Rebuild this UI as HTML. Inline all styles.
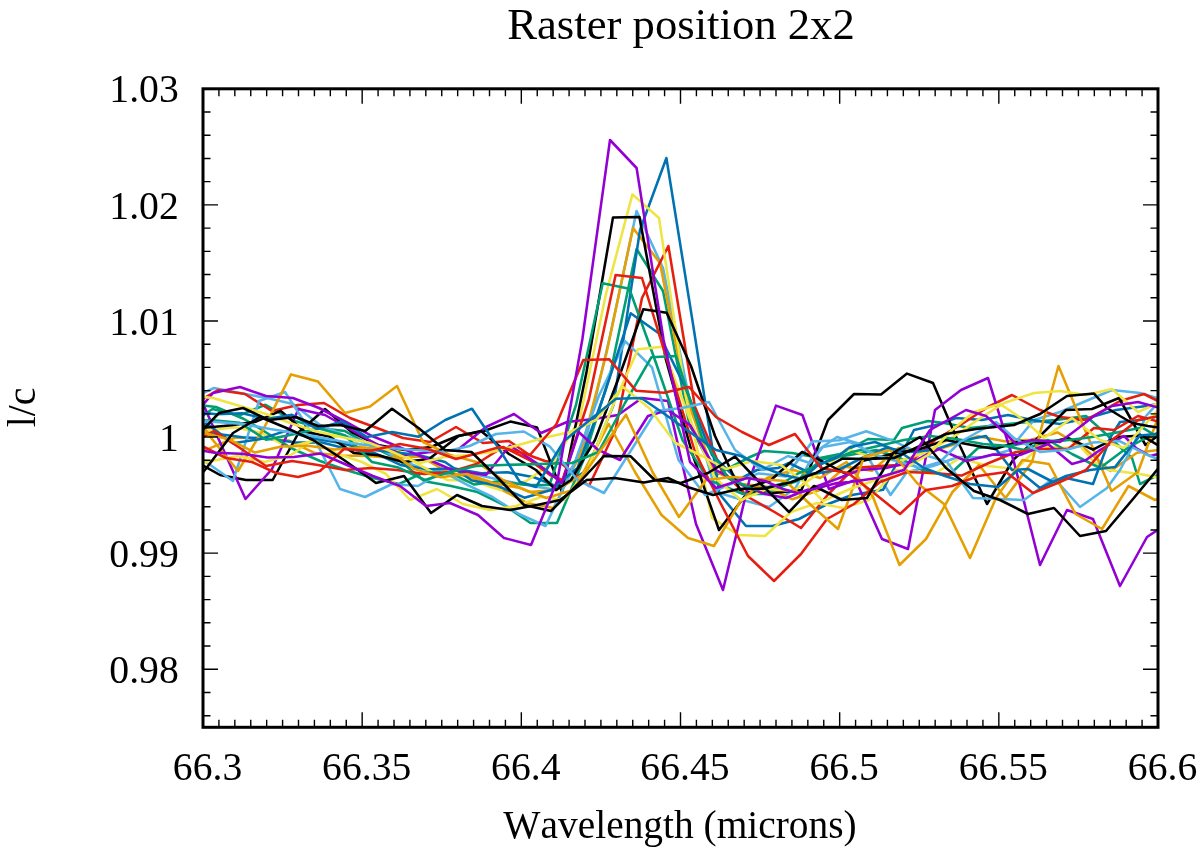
<!DOCTYPE html>
<html><head><meta charset="utf-8"><title>Raster position 2x2</title>
<style>
html,body{margin:0;padding:0;background:#fff;}
svg{display:block;}
.t{font-size:40.7px;}
text{font-family:"Liberation Serif","Times New Roman",serif;font-size:40px;fill:#000;font-kerning:none;}
</style></head><body>
<svg width="1200" height="853" viewBox="0 0 1200 853">
<rect width="1200" height="853" fill="#fff"/>
<defs><clipPath id="c"><rect x="203.0" y="88.8" width="955.0" height="638.5"/></clipPath></defs>
<g clip-path="url(#c)" fill="none" stroke-width="2.55" stroke-linejoin="round" stroke-linecap="butt">
<polyline points="186.0,427.3 212.5,409.0 239.0,415.6 265.5,404.8 292.0,420.1 318.5,427.9 345.0,431.1 371.5,446.1 398.0,459.3 424.5,481.2 451.0,486.0 477.5,492.0 504.0,505.0 530.5,523.0 557.0,523.0 583.5,460.0 610.0,375.0 636.6,249.0 663.0,291.0 689.5,425.0 716.0,475.0 750.0,457.0 764.0,451.0 792.0,453.0 820.0,458.0 840.0,454.0 868.0,439.0 894.0,440.0 902.0,428.0 928.0,421.0 944.0,423.0 970.0,428.0 998.0,425.0 1028.0,422.0 1056.0,420.0 1086.0,416.0 1106.0,434.0 1132.0,458.0 1140.0,484.0 1160.0,474.0 1186.0,470.0" stroke="#009E73"/>
<polyline points="188.0,400.0 214.0,388.0 240.0,393.0 267.0,398.0 293.0,404.0 320.0,425.0 346.0,436.0 372.4,444.8 398.8,459.0 425.1,469.9 451.5,469.8 477.9,475.1 504.2,480.8 530.6,485.8 557.0,490.0 583.5,450.0 610.0,336.0 636.6,211.0 663.0,268.0 689.5,400.0 716.0,492.0 742.5,500.0 769.0,507.0 795.5,488.0 815.0,452.0 837.0,437.0 860.0,444.0 890.5,495.0 907.0,472.0 933.0,466.0 958.2,457.0 983.5,457.2 1008.8,450.4 1034.0,420.0 1060.0,412.0 1086.0,401.0 1112.0,390.0 1140.0,393.0 1160.0,399.0 1186.0,404.0" stroke="#56B4E9"/>
<polyline points="182.5,456.9 209.0,448.6 235.5,437.5 262.0,438.5 288.5,440.5 315.0,453.1 341.5,455.5 368.0,455.9 394.5,457.9 421.0,456.6 447.5,472.0 474.0,478.0 500.5,489.0 527.0,503.0 553.5,508.0 580.0,455.0 606.5,353.0 633.0,228.0 660.0,263.0 686.5,398.0 713.0,470.0 739.5,483.8 766.0,486.6 792.5,499.3 819.0,490.3 845.5,466.7 872.0,470.7 898.5,447.9 925.0,452.9 951.5,445.3 978.0,436.2 1004.5,441.3 1031.0,439.8 1057.5,432.4 1084.0,448.1 1110.5,471.0 1137.0,452.8 1163.5,449.3" stroke="#E69F00"/>
<polyline points="189.5,429.9 216.0,433.7 242.5,437.2 269.0,438.7 295.5,442.4 322.0,442.5 348.5,449.2 375.0,453.1 401.5,465.3 428.0,469.2 454.5,468.5 481.0,473.2 507.5,472.3 534.0,477.3 560.5,488.0 587.0,470.0 613.5,405.0 640.0,230.0 666.4,158.0 693.0,324.0 719.5,494.0 746.0,526.0 772.5,526.0 799.0,519.0 825.5,505.0 852.0,495.0 883.0,489.8 914.0,430.0 940.0,424.0 956.0,418.0 982.0,420.0 1008.0,415.0 1032.0,420.0 1060.0,424.0 1088.0,418.0 1116.0,410.0 1146.0,406.0 1172.0,402.0" stroke="#0072B2"/>
<polyline points="192.0,405.0 218.0,390.0 245.0,394.0 272.0,411.0 298.0,405.0 324.0,403.0 350.0,418.0 377.0,428.0 403.0,438.0 430.0,442.0 456.0,427.0 483.0,443.0 509.0,441.0 531.0,456.0 545.0,461.0 562.0,464.0 589.0,486.0 615.5,430.0 642.0,298.0 668.4,246.0 695.0,407.0 721.5,470.0 748.0,497.0 774.5,512.0 801.0,528.0 827.5,495.0 854.0,468.0 880.0,466.0 907.5,464.6 935.0,440.0 962.0,424.0 988.0,407.0 1012.0,395.0 1040.0,410.0 1060.0,417.0 1086.0,420.0 1120.0,401.0 1144.0,394.0 1160.0,402.0 1186.0,410.0" stroke="#E51E10"/>
<polyline points="182.0,447.2 208.5,430.5 235.0,427.2 261.5,433.1 288.0,447.2 314.5,440.4 341.0,435.4 367.5,448.5 394.0,448.0 420.5,465.7 447.0,479.9 473.5,481.0 500.0,490.0 526.5,481.0 553.0,462.0 579.5,420.0 606.0,294.0 632.4,194.4 659.0,218.0 685.5,395.0 712.0,518.0 738.5,535.0 765.0,536.0 791.0,512.0 817.0,503.0 843.0,508.0 869.0,500.0 896.0,470.0 934.0,474.0 960.0,458.0 988.0,466.0 1016.0,469.0 1040.0,446.0 1066.0,448.0 1080.0,446.0 1094.0,462.0 1108.0,470.0 1140.0,474.0 1160.0,478.0 1186.0,480.0" stroke="#F0E442"/>
<polyline points="193.0,460.0 220.0,475.0 246.0,480.0 272.7,480.0 299.0,432.0 325.0,409.0 351.5,432.0 378.0,445.0 404.5,450.0 431.0,447.0 457.5,436.0 484.0,431.0 510.3,421.6 537.0,427.4 562.0,492.0 586.5,372.0 613.0,217.4 639.4,217.0 666.0,360.0 692.4,454.0 719.0,530.0 748.0,492.0 774.0,493.0 801.5,490.0 828.0,420.0 854.0,394.0 881.0,394.4 907.0,373.6 933.0,383.0 960.0,446.0 987.0,504.0 1013.0,460.0 1040.0,436.0 1066.0,410.0 1092.0,409.0 1119.0,398.0 1145.5,445.0 1172.0,425.0" stroke="#000000"/>
<polyline points="192.5,380.0 219.0,440.0 245.5,499.0 272.0,469.0 298.5,409.0 325.0,415.0 351.5,430.0 378.0,445.0 404.5,455.0 431.0,452.0 457.5,450.0 486.0,427.0 514.0,414.0 541.0,433.0 567.0,422.0 594.0,419.0 618.0,415.0 642.0,398.0 668.0,401.0 696.0,524.0 723.0,590.0 749.4,480.0 776.0,405.6 802.4,415.0 829.0,489.0 855.6,480.0 882.0,539.0 908.0,549.0 935.0,410.0 961.0,390.0 988.0,378.0 1014.0,462.0 1040.0,565.0 1067.0,510.0 1093.0,519.0 1120.0,586.0 1147.0,537.0 1173.0,520.0" stroke="#9400D3"/>
<polyline points="190.0,404.0 216.0,407.0 244.0,419.0 267.0,433.0 293.0,449.0 320.0,461.0 346.0,470.0 373.0,478.0 399.0,484.0 424.1,472.4 449.2,472.3 474.2,484.6 499.3,481.2 524.4,484.8 549.5,485.0 576.0,405.0 602.7,283.3 629.3,288.7 656.0,363.0 682.5,440.0 709.0,480.0 743.0,494.0 765.0,494.0 783.0,486.0 797.0,481.0 810.0,469.0 823.0,459.0 850.0,455.0 876.0,450.0 900.0,458.0 922.0,470.0 948.0,476.0 978.0,448.0 1006.0,446.0 1024.0,450.0 1048.0,440.0 1072.0,454.0 1100.0,468.0 1124.0,450.0 1142.0,440.0 1160.0,432.0 1186.0,426.0" stroke="#009E73"/>
<polyline points="180.0,440.0 206.0,462.0 233.0,481.0 259.0,401.0 285.0,392.0 311.0,432.0 340.0,489.0 365.0,497.0 392.0,484.0 418.0,486.0 442.8,471.6 467.7,485.2 492.5,497.0 519.0,514.0 545.5,526.0 572.0,470.0 598.8,396.0 625.3,341.3 652.0,367.3 678.5,460.0 705.0,495.0 731.9,483.5 758.8,473.4 785.7,476.4 812.6,441.4 839.4,440.3 866.3,431.2 893.2,440.9 920.1,453.5 947.0,462.0 973.0,498.0 1000.0,499.0 1024.0,500.0 1054.0,478.0 1080.0,507.0 1107.0,488.0 1120.0,470.0 1132.0,448.0 1146.0,416.0 1165.0,395.0" stroke="#56B4E9"/>
<polyline points="185.0,400.0 212.0,439.0 238.0,471.0 264.0,428.0 291.0,374.4 318.0,381.6 345.0,413.0 370.0,406.4 397.0,386.0 423.0,442.0 450.0,455.0 476.5,462.0 503.0,480.0 529.5,492.0 556.0,490.0 582.0,475.0 608.7,424.0 635.0,472.0 661.5,515.0 688.0,538.0 714.0,546.0 740.0,502.0 767.0,478.0 793.5,470.0 820.0,478.0 846.5,462.0 873.0,497.0 899.5,565.0 926.0,539.0 952.5,492.0 979.0,465.0 1005.5,498.0 1032.0,462.0 1058.5,366.0 1085.0,430.0 1111.5,491.0 1138.0,472.0 1164.5,400.0" stroke="#E69F00"/>
<polyline points="185.0,467.0 211.5,461.0 238.0,456.0 264.5,462.0 291.0,455.0 312.0,440.0 338.0,454.0 362.0,462.0 386.0,474.0 410.0,500.0 437.0,489.0 463.0,504.0 490.0,510.0 516.0,506.0 541.0,497.0 564.0,500.0 588.0,468.0 612.0,408.0 638.0,349.3 662.7,346.7 689.0,417.0 715.0,478.0 741.0,500.0 767.3,488.9 793.6,491.0 819.8,472.7 846.1,449.1 872.4,457.1 898.7,461.2 924.9,452.7 951.2,438.4 977.5,420.0 1004.0,403.0 1034.0,393.0 1060.0,391.0 1086.0,395.0 1112.0,389.0 1138.0,412.0 1165.0,400.0" stroke="#F0E442"/>
<polyline points="180.0,437.2 206.5,423.4 233.0,443.3 259.5,439.2 286.0,430.9 312.5,438.6 339.0,442.7 365.5,449.1 392.0,451.9 418.5,454.9 445.0,462.0 471.5,480.3 498.0,486.0 524.5,497.7 551.0,490.0 577.5,468.0 604.0,395.0 630.7,313.3 658.7,333.3 685.5,388.0 712.0,455.0 738.0,480.0 757.0,470.0 778.0,468.0 789.0,463.0 812.0,474.0 838.0,470.0 862.0,458.0 886.0,448.0 910.0,452.0 934.0,450.0 960.0,441.0 986.0,436.0 1012.0,470.0 1028.0,469.0 1053.0,482.0 1066.0,478.0 1093.0,484.0 1110.0,438.0 1120.0,422.0 1140.0,420.0 1166.0,415.0" stroke="#0072B2"/>
<polyline points="188.0,445.0 214.0,431.0 240.0,448.0 266.0,466.0 292.0,461.0 318.0,465.0 345.0,470.0 371.0,468.0 397.0,470.0 424.0,474.0 450.0,472.0 476.5,464.0 503.0,447.0 529.5,460.0 550.0,475.0 562.5,480.0 589.0,399.0 615.6,275.0 642.0,278.0 668.5,365.0 695.0,452.0 721.0,504.0 748.0,556.0 774.0,581.0 801.0,554.0 827.0,519.0 854.0,504.0 880.0,482.0 907.0,472.0 934.2,473.1 961.5,475.6 988.8,463.0 1016.0,452.0 1042.0,449.0 1068.0,449.0 1094.0,428.0 1114.0,430.0 1138.0,416.0 1160.0,422.0 1186.0,420.0" stroke="#E51E10"/>
<polyline points="182.5,421.5 207.0,427.5 231.5,425.2 256.0,421.7 280.5,410.8 305.0,431.8 329.5,436.6 354.0,453.1 378.5,455.2 403.0,462.0 429.0,459.0 458.7,436.0 481.0,431.0 509.0,454.0 536.0,470.0 556.0,490.0 571.0,480.0 595.0,440.0 619.0,377.0 643.3,309.3 666.7,312.7 691.0,366.0 715.0,436.0 740.0,490.0 771.0,480.0 802.0,452.0 818.0,459.0 846.0,474.0 862.0,461.0 892.0,454.0 920.0,449.0 946.0,440.0 970.5,444.7 995.0,449.1 1019.5,441.0 1044.0,443.4 1068.5,438.1 1093.0,449.7 1117.5,437.0 1142.0,435.6 1166.5,450.3" stroke="#000000"/>
<polyline points="186.0,425.0 213.0,393.0 240.0,387.0 266.0,396.0 293.0,398.0 319.0,408.0 346.0,422.0 372.0,436.0 399.0,447.0 425.0,458.0 452.0,470.0 486.0,475.0 510.0,445.5 538.0,464.0 562.0,483.0 578.7,432.0 597.3,449.3 620.0,460.0 648.0,416.0 668.0,410.0 690.0,425.0 716.0,470.0 742.0,485.0 765.0,494.0 786.0,498.0 807.0,490.0 834.0,480.0 860.0,470.0 886.0,468.0 912.0,462.0 939.0,449.2 966.0,461.0 993.0,454.6 1020.0,455.0 1048.0,444.0 1072.0,464.0 1086.0,460.0 1100.0,450.0 1124.0,436.0 1136.0,448.0 1150.0,456.0 1176.0,450.0" stroke="#9400D3"/>
<polyline points="186.5,421.3 213.0,420.2 239.5,422.7 266.0,439.8 292.5,434.4 319.0,428.5 345.5,435.8 372.0,462.0 398.5,467.6 425.0,480.0 450.0,472.0 476.0,466.0 503.0,465.0 540.0,464.0 572.0,463.0 598.5,452.0 625.0,403.0 651.3,357.3 676.0,356.0 702.0,437.0 728.0,478.0 755.0,490.0 781.0,484.0 799.0,473.0 826.0,462.0 852.0,452.0 878.0,446.0 904.0,440.0 930.0,436.0 956.5,439.0 983.0,444.0 1009.5,446.0 1036.0,440.8 1062.5,440.7 1089.0,437.6 1115.5,432.7 1142.0,427.4 1168.5,443.5" stroke="#009E73"/>
<polyline points="190.0,420.0 216.0,422.0 243.0,424.0 270.0,429.0 296.0,433.0 323.0,438.0 350.0,443.0 390.0,448.0 416.0,450.0 443.0,452.0 469.5,446.0 496.0,434.0 523.8,431.5 550.0,446.7 577.5,480.0 604.0,493.0 630.0,452.0 656.0,411.0 682.0,408.0 709.0,402.0 735.0,450.0 762.0,470.0 788.0,456.0 810.0,463.0 823.0,447.0 850.0,442.0 876.0,455.0 900.0,462.0 920.0,468.0 940.0,462.0 960.0,442.0 996.0,422.0 1014.0,438.0 1040.0,452.0 1066.5,449.7 1093.0,442.6 1119.5,441.1 1146.0,454.2 1172.5,465.0" stroke="#56B4E9"/>
<polyline points="202.0,432.3 228.5,439.2 255.0,452.6 281.5,446.4 308.0,445.7 334.5,449.6 361.0,447.5 387.5,449.3 414.0,468.9 440.5,477.2 467.0,474.0 493.5,483.0 520.0,488.0 546.5,498.0 573.0,490.0 599.5,452.0 626.0,414.7 652.5,472.0 679.0,517.0 706.0,480.0 732.0,477.0 759.0,479.0 785.5,481.0 812.0,506.0 838.0,529.0 864.0,457.0 890.0,450.0 917.0,483.0 944.0,504.0 970.0,558.0 996.0,498.0 1022.5,460.0 1049.0,464.0 1075.5,514.0 1102.0,529.0 1128.5,486.0 1155.0,500.0 1181.0,490.0" stroke="#E69F00"/>
<polyline points="186.5,395.0 213.0,398.0 240.0,406.0 266.0,414.0 293.0,424.0 319.0,432.0 346.0,438.0 370.3,443.1 394.7,452.8 419.0,463.3 443.3,457.3 467.7,454.9 492.0,452.0 518.5,445.0 543.5,438.0 570.0,432.0 596.0,420.0 622.7,386.7 649.0,408.0 675.5,443.0 702.0,456.0 726.0,469.0 752.7,461.0 780.7,465.0 803.0,481.0 823.0,501.0 850.0,489.0 876.0,480.0 902.0,470.0 928.0,455.0 952.0,430.0 974.0,412.0 1000.0,404.0 1024.0,420.0 1044.0,438.0 1072.0,418.0 1100.0,440.0 1124.0,448.0 1140.0,430.0 1160.0,408.0 1186.0,400.0" stroke="#F0E442"/>
<polyline points="192.0,411.7 217.0,414.3 242.0,413.2 267.0,419.0 292.0,414.8 317.0,428.8 342.0,421.4 367.0,437.0 392.0,432.0 418.7,436.7 445.3,420.0 472.0,408.7 498.5,448.0 519.7,481.7 536.0,487.0 564.0,441.0 591.0,419.0 616.0,398.7 641.3,398.0 666.0,415.0 691.0,433.0 716.0,450.0 741.0,456.0 765.0,468.0 783.0,475.0 802.0,479.0 818.0,465.0 837.0,457.0 850.0,447.0 875.0,442.0 900.0,452.0 924.0,468.0 945.0,476.0 970.0,484.0 998.0,487.0 1018.0,470.0 1040.0,488.0 1066.0,476.0 1090.0,470.0 1115.0,467.1 1140.0,435.5 1165.0,433.2" stroke="#0072B2"/>
<polyline points="200.0,445.0 226.0,458.0 252.0,462.0 276.0,473.0 298.0,477.0 320.0,471.0 344.0,449.0 370.0,451.0 400.0,444.0 428.0,449.0 456.0,459.0 475.0,454.0 500.0,447.0 530.0,455.0 556.5,424.0 583.3,360.0 609.3,359.3 636.0,390.7 664.0,392.7 689.0,387.0 716.0,417.0 742.0,432.0 769.0,445.0 795.0,434.0 821.0,468.0 848.0,473.0 874.0,493.0 900.0,514.0 926.0,490.0 952.0,486.0 978.0,476.0 1006.0,472.0 1033.0,493.0 1060.0,482.0 1086.0,470.0 1112.0,440.0 1138.0,420.0 1164.5,415.1" stroke="#E51E10"/>
<polyline points="193.0,440.0 219.0,413.0 243.0,408.0 269.0,420.0 296.0,417.0 318.0,426.0 340.0,425.0 365.3,431.0 392.0,408.7 418.5,428.0 445.0,450.0 471.5,452.0 498.0,478.0 524.0,505.0 551.0,511.0 577.0,485.0 604.0,456.0 630.7,456.3 654.7,480.0 681.0,483.0 708.0,473.0 735.0,456.6 762.0,485.0 789.0,512.0 814.0,486.0 842.0,500.0 867.0,498.0 893.0,453.0 920.0,437.0 946.0,468.0 974.0,491.0 1000.0,500.0 1028.0,514.0 1054.0,508.0 1080.0,536.0 1106.0,531.0 1133.0,499.0 1159.5,467.0" stroke="#000000"/>
<polyline points="180.0,500.0 206.5,468.0 233.0,433.0 260.0,417.0 286.5,428.0 313.0,440.0 344.0,460.0 376.0,483.0 404.0,476.0 431.0,513.0 457.0,495.0 482.0,506.0 510.0,510.0 537.0,505.0 560.0,500.0 586.7,480.0 614.7,478.0 644.0,482.4 668.0,478.0 686.7,486.7 713.0,495.0 738.9,488.9 764.8,488.6 790.6,482.2 816.5,472.7 842.4,458.6 868.2,459.1 894.1,458.0 920.0,446.0 946.0,434.0 976.0,429.0 1014.0,425.0 1040.0,414.0 1067.0,396.0 1094.0,393.6 1107.0,408.0 1120.0,416.0 1132.0,423.0 1148.0,426.0 1174.0,430.0" stroke="#000000"/>
<polyline points="188.0,448.0 214.5,452.8 241.0,453.7 267.5,457.4 294.0,457.0 320.5,453.5 347.0,465.0 373.0,476.0 400.0,486.0 426.0,506.0 450.0,503.0 478.0,515.0 504.0,538.0 531.0,545.0 557.5,480.0 582.4,339.0 610.0,140.0 636.6,168.0 663.6,340.0 690.0,462.0 716.0,488.0 747.0,478.0 765.0,481.0 783.0,489.0 797.0,493.0 810.0,490.0 837.0,483.0 850.0,482.0 877.0,478.0 904.0,470.0 930.0,430.0 966.0,410.0 986.0,416.0 1006.0,434.0 1016.0,444.0 1032.0,440.0 1060.0,442.0 1076.0,430.0 1094.0,416.0 1112.0,406.0 1138.0,402.0 1160.0,408.0 1186.0,412.0" stroke="#9400D3"/>
</g>
<path d="M203.00,727.3v-15M203.00,88.8v15M218.92,727.3v-7.5M218.92,88.8v7.5M234.83,727.3v-7.5M234.83,88.8v7.5M250.75,727.3v-7.5M250.75,88.8v7.5M266.67,727.3v-7.5M266.67,88.8v7.5M282.58,727.3v-7.5M282.58,88.8v7.5M298.50,727.3v-7.5M298.50,88.8v7.5M314.42,727.3v-7.5M314.42,88.8v7.5M330.33,727.3v-7.5M330.33,88.8v7.5M346.25,727.3v-7.5M346.25,88.8v7.5M362.17,727.3v-15M362.17,88.8v15M378.08,727.3v-7.5M378.08,88.8v7.5M394.00,727.3v-7.5M394.00,88.8v7.5M409.92,727.3v-7.5M409.92,88.8v7.5M425.83,727.3v-7.5M425.83,88.8v7.5M441.75,727.3v-7.5M441.75,88.8v7.5M457.67,727.3v-7.5M457.67,88.8v7.5M473.58,727.3v-7.5M473.58,88.8v7.5M489.50,727.3v-7.5M489.50,88.8v7.5M505.42,727.3v-7.5M505.42,88.8v7.5M521.33,727.3v-15M521.33,88.8v15M537.25,727.3v-7.5M537.25,88.8v7.5M553.17,727.3v-7.5M553.17,88.8v7.5M569.08,727.3v-7.5M569.08,88.8v7.5M585.00,727.3v-7.5M585.00,88.8v7.5M600.92,727.3v-7.5M600.92,88.8v7.5M616.83,727.3v-7.5M616.83,88.8v7.5M632.75,727.3v-7.5M632.75,88.8v7.5M648.67,727.3v-7.5M648.67,88.8v7.5M664.58,727.3v-7.5M664.58,88.8v7.5M680.50,727.3v-15M680.50,88.8v15M696.42,727.3v-7.5M696.42,88.8v7.5M712.33,727.3v-7.5M712.33,88.8v7.5M728.25,727.3v-7.5M728.25,88.8v7.5M744.17,727.3v-7.5M744.17,88.8v7.5M760.08,727.3v-7.5M760.08,88.8v7.5M776.00,727.3v-7.5M776.00,88.8v7.5M791.92,727.3v-7.5M791.92,88.8v7.5M807.83,727.3v-7.5M807.83,88.8v7.5M823.75,727.3v-7.5M823.75,88.8v7.5M839.67,727.3v-15M839.67,88.8v15M855.58,727.3v-7.5M855.58,88.8v7.5M871.50,727.3v-7.5M871.50,88.8v7.5M887.42,727.3v-7.5M887.42,88.8v7.5M903.33,727.3v-7.5M903.33,88.8v7.5M919.25,727.3v-7.5M919.25,88.8v7.5M935.17,727.3v-7.5M935.17,88.8v7.5M951.08,727.3v-7.5M951.08,88.8v7.5M967.00,727.3v-7.5M967.00,88.8v7.5M982.92,727.3v-7.5M982.92,88.8v7.5M998.83,727.3v-15M998.83,88.8v15M1014.75,727.3v-7.5M1014.75,88.8v7.5M1030.67,727.3v-7.5M1030.67,88.8v7.5M1046.58,727.3v-7.5M1046.58,88.8v7.5M1062.50,727.3v-7.5M1062.50,88.8v7.5M1078.42,727.3v-7.5M1078.42,88.8v7.5M1094.33,727.3v-7.5M1094.33,88.8v7.5M1110.25,727.3v-7.5M1110.25,88.8v7.5M1126.17,727.3v-7.5M1126.17,88.8v7.5M1142.08,727.3v-7.5M1142.08,88.8v7.5M1158.00,727.3v-15M1158.00,88.8v15M203.0,715.69h7.5M1158.0,715.69h-7.5M203.0,692.47h7.5M1158.0,692.47h-7.5M203.0,669.25h15M1158.0,669.25h-15M203.0,646.04h7.5M1158.0,646.04h-7.5M203.0,622.82h7.5M1158.0,622.82h-7.5M203.0,599.60h7.5M1158.0,599.60h-7.5M203.0,576.38h7.5M1158.0,576.38h-7.5M203.0,553.16h15M1158.0,553.16h-15M203.0,529.95h7.5M1158.0,529.95h-7.5M203.0,506.73h7.5M1158.0,506.73h-7.5M203.0,483.51h7.5M1158.0,483.51h-7.5M203.0,460.29h7.5M1158.0,460.29h-7.5M203.0,437.07h15M1158.0,437.07h-15M203.0,413.85h7.5M1158.0,413.85h-7.5M203.0,390.64h7.5M1158.0,390.64h-7.5M203.0,367.42h7.5M1158.0,367.42h-7.5M203.0,344.20h7.5M1158.0,344.20h-7.5M203.0,320.98h15M1158.0,320.98h-15M203.0,297.76h7.5M1158.0,297.76h-7.5M203.0,274.55h7.5M1158.0,274.55h-7.5M203.0,251.33h7.5M1158.0,251.33h-7.5M203.0,228.11h7.5M1158.0,228.11h-7.5M203.0,204.89h15M1158.0,204.89h-15M203.0,181.67h7.5M1158.0,181.67h-7.5M203.0,158.45h7.5M1158.0,158.45h-7.5M203.0,135.24h7.5M1158.0,135.24h-7.5M203.0,112.02h7.5M1158.0,112.02h-7.5M203.0,88.80h15M1158.0,88.80h-15" stroke="#000" stroke-width="1.4" fill="none"/>
<rect x="203.0" y="88.8" width="955.0" height="638.5" fill="none" stroke="#000" stroke-width="3"/>
<text x="681" y="39" text-anchor="middle" style="font-size:44.7px">Raster position 2x2</text>
<text transform="translate(178.8,102.4) scale(0.975,1)" text-anchor="end" class="t">1.03</text><text transform="translate(178.8,218.5) scale(0.975,1)" text-anchor="end" class="t">1.02</text><text transform="translate(178.8,334.6) scale(0.975,1)" text-anchor="end" class="t">1.01</text><text transform="translate(178.8,450.7) scale(0.975,1)" text-anchor="end" class="t">1</text><text transform="translate(178.8,566.8) scale(0.975,1)" text-anchor="end" class="t">0.99</text><text transform="translate(178.8,682.9) scale(0.975,1)" text-anchor="end" class="t">0.98</text>
<text transform="translate(207.5,780) scale(0.975,1)" text-anchor="middle" class="t">66.3</text><text transform="translate(366.7,780) scale(0.975,1)" text-anchor="middle" class="t">66.35</text><text transform="translate(525.8,780) scale(0.975,1)" text-anchor="middle" class="t">66.4</text><text transform="translate(685.0,780) scale(0.975,1)" text-anchor="middle" class="t">66.45</text><text transform="translate(844.2,780) scale(0.975,1)" text-anchor="middle" class="t">66.5</text><text transform="translate(1003.3,780) scale(0.975,1)" text-anchor="middle" class="t">66.55</text><text transform="translate(1162.5,780) scale(0.975,1)" text-anchor="middle" class="t">66.6</text>
<text transform="translate(680,838) scale(0.968,1)" text-anchor="middle" class="t">Wavelength (microns)</text>
<text transform="translate(35,407.5) rotate(-90) scale(0.975,1)" text-anchor="middle" class="t">l/c</text>
</svg>
</body></html>
